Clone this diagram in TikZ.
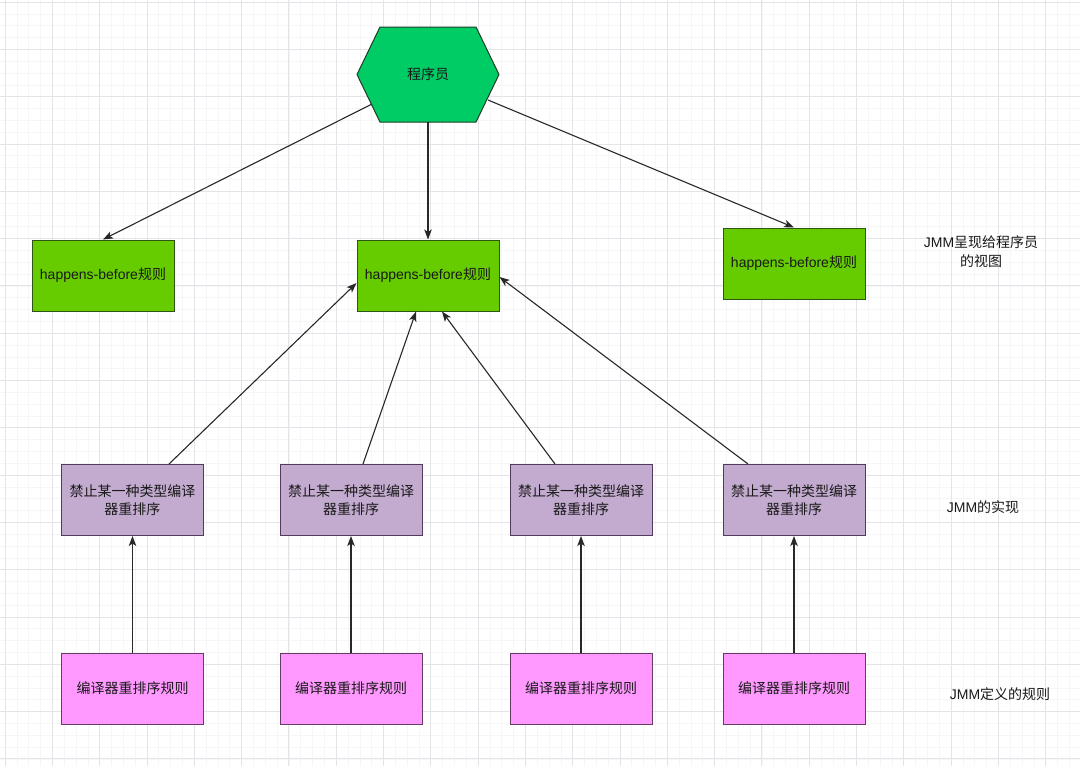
\documentclass[tikz,border=0pt]{standalone}
\usepackage{fontspec}
\setmainfont{Liberation Sans}
\newfontfamily\cjk{Noto Sans CJK SC}
\usetikzlibrary{arrows.meta,calc,positioning}

\definecolor{hexgreen}{RGB}{0,204,102}
\definecolor{hexborder}{RGB}{30,60,40}
\definecolor{hbgreen}{RGB}{102,204,0}
\definecolor{hbborder}{RGB}{45,85,20}
\definecolor{implfill}{RGB}{195,171,208}
\definecolor{implborder}{RGB}{80,60,90}
\definecolor{rulefill}{RGB}{255,153,255}
\definecolor{ruleborder}{RGB}{100,60,100}
\definecolor{gridmajor}{RGB}{228,228,232}
\definecolor{gridminor}{RGB}{246,246,248}
\definecolor{arrowgray}{RGB}{40,40,40}
\definecolor{textgray}{RGB}{25,25,25}

\begin{document}
\begin{tikzpicture}[x=1pt, y=-1pt,
    box/.style={draw, line width=1pt, minimum width=142pt, minimum height=71pt, inner sep=0pt, align=center, text=textgray, font=\fontsize{14}{18}\selectfont},
    hb/.style={box, draw=hbborder, fill=hbgreen},
    impl/.style={box, draw=implborder, fill=implfill},
    rule/.style={box, draw=ruleborder, fill=rulefill},
    note/.style={align=center, text=textgray, font=\fontsize{14}{19}\selectfont},
    arrow/.style={draw=arrowgray, line width=1.1pt, -{Stealth[length=10pt, width=7.5pt, inset=2.5pt]}}]

        % canvas and grid
        \useasboundingbox (0,0) rectangle (1080,766);
        \fill[white] (0,0) rectangle (1080,766);
        \begin{scope}[shift={(5,2)}]
            \draw[gridminor, line width=0.5pt, step=11.825pt] (-5,-2) grid (1075,764);
            \draw[gridmajor, line width=0.8pt, step=47.3pt] (-5,-2) grid (1075,764);
        \end{scope}

        % programmer
        \coordinate (prog_c) at (428,74.5);
        \draw[fill=hexgreen, draw=hexborder, line width=1pt, line join=round]
            ($(prog_c)+(-71,0)$) -- ($(prog_c)+(-48,-47.5)$) -- ($(prog_c)+(48,-47.5)$)
            -- ($(prog_c)+(71,0)$) -- ($(prog_c)+(48,47.5)$) -- ($(prog_c)+(-48,47.5)$) -- cycle;
        \node[note] (prog) at (prog_c) {\cjk 程序员};
        \coordinate (prog_sw) at (372,104);
        \coordinate (prog_s) at (428,122);
        \coordinate (prog_se) at (488,100);

        % happens-before rules
        \node[hb] (hb_left) at (103,275.5) {happens-before{\cjk 规则}};
        \node[hb] (hb_mid) at (428,275.5) {happens-before{\cjk 规则}};
        \node[hb] (hb_right) at (794,263.5) {happens-before{\cjk 规则}};

        % compiler reorder bans
        \node[impl] (impl_a) at (132.5,500) {\cjk 禁止某一种类型编译\\\cjk 器重排序};
        \node[impl] (impl_b) at (351,500) {\cjk 禁止某一种类型编译\\\cjk 器重排序};
        \node[impl] (impl_c) at (581,500) {\cjk 禁止某一种类型编译\\\cjk 器重排序};
        \node[impl] (impl_d) at (794,500) {\cjk 禁止某一种类型编译\\\cjk 器重排序};

        % compiler reorder rules
        \node[rule] (rule_a) at (132.5,688.5) {\cjk 编译器重排序规则};
        \node[rule] (rule_b) at (351,688.5) {\cjk 编译器重排序规则};
        \node[rule] (rule_c) at (581,688.5) {\cjk 编译器重排序规则};
        \node[rule] (rule_d) at (794,688.5) {\cjk 编译器重排序规则};

        % side notes
        \node[note] (view_note) at (981,252) {JMM{\cjk 呈现给程序员}\\{\cjk 的视图}};
        \node[note] (impl_note) at (983,507) {JMM{\cjk 的实现}};
        \node[note] (rule_note) at (1000,694) {JMM{\cjk 定义的规则}};

        % Arrows
        \draw[arrow] (prog_sw) -- (hb_left.north);
        \draw[arrow] (prog_s) -- (hb_mid.north);
        \draw[arrow] (prog_se) -- (hb_right.north);

        \draw[arrow] ([xshift=36.5pt]impl_a.north) -- ([yshift=-7.5pt]hb_mid.west);
        \draw[arrow] ([xshift=12pt]impl_b.north) -- ([xshift=-12pt]hb_mid.south);
        \draw[arrow] ([xshift=-26pt]impl_c.north) -- ([xshift=14pt]hb_mid.south);
        \draw[arrow] ([xshift=-46pt]impl_d.north) -- ([yshift=-1.5pt]hb_mid.east);

        \draw[arrow] (rule_a.north) -- (impl_a.south);
        \draw[arrow] (rule_b.north) -- (impl_b.south);
        \draw[arrow] (rule_c.north) -- (impl_c.south);
        \draw[arrow] (rule_d.north) -- (impl_d.south);

    \end{tikzpicture}
\end{document}
